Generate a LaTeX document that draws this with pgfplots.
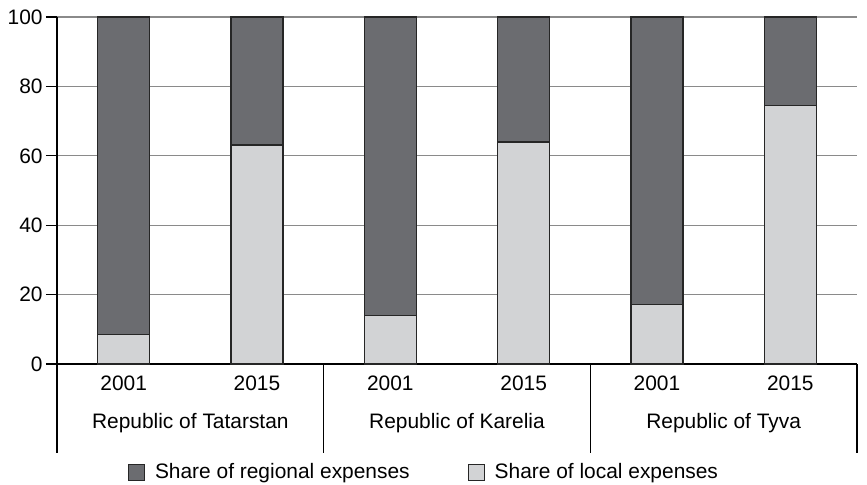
\documentclass[border=0pt]{standalone}
\usepackage{pgfplots}
\pgfplotsset{compat=1.18}
\usepackage{fontspec}
\setmainfont{Liberation Sans}
\definecolor{darkbar}{HTML}{6B6C70}
\definecolor{lightbar}{HTML}{D2D3D5}
\definecolor{gridgray}{HTML}{8A8A8A}
\pgfplotstableread{
x local regional
0 8.4 91.6
1 63.1 36.9
2 13.9 86.1
3 64.0 36.0
4 17.1 82.9
5 74.4 25.6
}\datatable
\begin{document}
\fontsize{10.5}{12}\selectfont
\begin{tikzpicture}
\path[use as bounding box] (0,0) rectangle (433.5bp,242.5bp);
\begin{axis}[
  at={(28.5bp,60.5bp)}, anchor=south west,
  scale only axis, width=400bp, height=173.5bp,
  ybar stacked, bar width=26bp,
  xmin=-0.5, xmax=5.5, ymin=0, ymax=100,
  axis x line=bottom, axis y line=left,
  axis line style={-, black, line width=0.6bp},
  ytick={0,20,...,100},
  xtick={0,...,5},
  xticklabels={2001,2015,2001,2015,2001,2015},
  tick align=outside,
  major tick length=5.5bp,
  ytick style={black, line width=0.6bp},
  xtick style={draw=none},
  ymajorgrids, grid style={gridgray, line width=0.6bp},
  /pgf/number format/assume math mode=true,
  tick label style={font=\fontsize{10.5}{12}\selectfont},
  yticklabel style={xshift=2bp},
  xticklabel style={yshift=3bp},
  clip=false,
  legend style={draw=none, fill=none, at={(0.46,-0.314)}, anchor=center,
    legend columns=2, font=\fontsize{10.5}{12}\selectfont,
    /tikz/every odd column/.append style={column sep=3bp},
    /tikz/every even column/.append style={column sep=27bp}},
  legend cell align=left,
  reverse legend,
  legend image code/.code={\draw[#1, line width=0.5bp] (0bp,-4bp) rectangle (8bp,4bp);},
]
\addplot[fill=lightbar, draw=black!85, line width=0.6bp] table[x=x, y=local] {\datatable};
\addlegendentry{Share of local expenses}
\addplot[fill=darkbar, draw=black!85, line width=0.6bp] table[x=x, y=regional] {\datatable};
\addlegendentry{Share of regional expenses}
\foreach \xx in {-0.5,1.5,3.5,5.5} {
  \edef\tmp{\noexpand\draw[black, line width=0.6bp] (axis cs:\xx,0) -- ([yshift=-44.5bp]axis cs:\xx,0);}
  \tmp
}
\node at (axis cs:0.5,0) [yshift=-29.5bp] {Republic of Tatarstan};
\node at (axis cs:2.5,0) [yshift=-29.5bp] {Republic of Karelia};
\node at (axis cs:4.5,0) [yshift=-29.5bp] {Republic of Tyva};
\end{axis}
\end{tikzpicture}
\end{document}
